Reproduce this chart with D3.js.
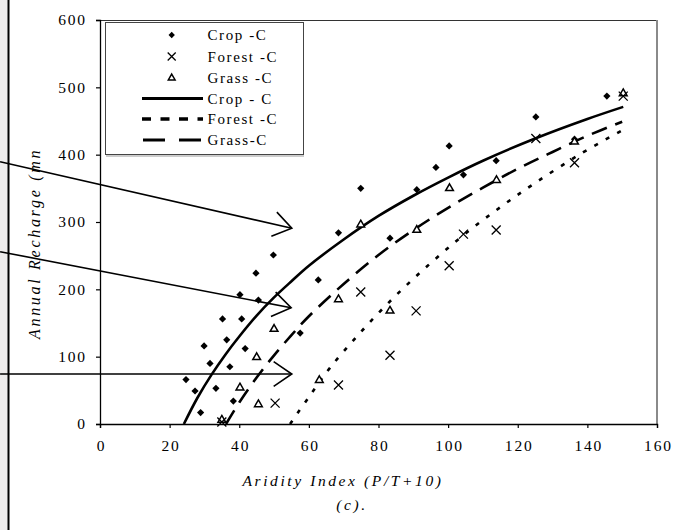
<!DOCTYPE html>
<html><head><meta charset="utf-8">
<script src="https://cdn.jsdelivr.net/npm/d3@7"></script>
<style>
html,body{margin:0;padding:0;background:#fff;}
svg{display:block;}
text{font-family:"Liberation Serif","Times New Roman",serif;fill:#000;}
</style></head>
<body><svg id="c" width="675" height="530"></svg>
<script>
// ---- data ----
const cropX = [24.7,27.3,28.9,29.9,31.6,33.3,35.2,36.4,37.3,38.3,40.2,40.7,41.7,44.8,45.5,49.8,57.5,62.7,68.5,74.9,83.3,91,96.5,100.3,104.4,113.8,125.2,136.3,145.6];
const cropY = [66,49,17,116,90,53,156,125,85,34,192,156,112,224,184,251,135,214,284,350,276,348,381,413,370,391,456,423,487];
const forestX = [35,50.3,68.5,74.9,83.3,90.8,100.3,104.4,113.8,125.2,136.3,150.3];
const forestY = [3,31,58,196,102,168,235,282,288,424,388,487];
const grassX = [35,40.2,45.5,45,50,63,68.5,74.9,83.3,91,100.4,113.9,136.3,150.3];
const grassY = [6,54,29,99,141,65,185,296,168,288,350,362,419,491];
// fitted curves as drawn
const cropFitX = [24.1,28,32,36,40,45,50,55,60,70,80,90,100,110,125,140,150.3];
const cropFitY = [0,39,73,103,130,161,188,212,235,274,309,339,366,391,424,453,471];
const forestFitX = [54.6,60,66,75,85,95,105,115,125,138,150.3];
const forestFitY = [0,40,83,137,191,239,283,322,358,401,437];
const grassFitX = [36.2,40,45,50,55,60,70,80,90,100,110,120,130,140,150];
const grassFitY = [0,32,69,102,132,160,208,251,288,321,351,379,404,428,449];
const xTicks = [0,20,40,60,80,100,120,140,160];
const yTicks = [0,100,200,300,400,500,600];
const legendLabels = ["Crop -C","Forest -C","Grass -C","Crop - C","Forest -C","Grass-C"];
// annotation arrows (data units: start -> tip)
const arrowFrom = [[-28.7,389.6],[-28.7,255.9],[-28.7,74.3]];
const arrowTo = [[55.1,290.7],[54.9,172.7],[55.1,74.3]];

// ---- drawing ----
const svg = d3.select("#c");
const x = d3.scaleLinear().domain([0,160]).range([100,657]);
const y = d3.scaleLinear().domain([0,600]).range([424,20]);

// left strip (edge of neighbouring figure)
svg.append("rect").attr("x",0).attr("y",0).attr("width",8).attr("height",530).attr("fill","#eeecec");
svg.append("line").attr("x1",8.5).attr("x2",8.5).attr("y1",0).attr("y2",530).attr("stroke","#000").attr("stroke-width",2);

// plot frame
svg.append("line").attr("x1",x(0)).attr("x2",x(160)).attr("y1",y(600)+0.5).attr("y2",y(600)+0.5).attr("stroke","#333").attr("stroke-width",1);
svg.append("line").attr("x1",x(160)).attr("x2",x(160)).attr("y1",y(600)).attr("y2",y(0)).attr("stroke","#8a8a8a").attr("stroke-width",2);

// axes
const fmt = d3.format("d");
const gx = svg.append("g").attr("transform",`translate(0,${y(0)})`)
  .call(d3.axisBottom(x).tickValues(xTicks).tickFormat(fmt).tickSizeOuter(0).tickSize(4).tickPadding(12));
const gy = svg.append("g").attr("transform",`translate(${x(0)},0)`)
  .call(d3.axisLeft(y).tickValues(yTicks).tickFormat(fmt).tickSizeOuter(0).tickSize(4).tickPadding(11));
[gx,gy].forEach(g=>{
  g.select(".domain").attr("stroke","#000").attr("stroke-width",1.3);
  g.selectAll(".tick line").attr("stroke","#000").attr("stroke-width",1.2);
  g.selectAll("text").attr("font-family","Liberation Serif, serif").attr("font-size",15.5).style("letter-spacing","1.8px").attr("fill","#111");
});
gy.selectAll("text").attr("dx","1.8px");
gx.selectAll("text").attr("dx","0.9px");

// axis titles
svg.append("text").attr("x",343).attr("y",486).attr("text-anchor","middle")
  .attr("font-size",15.5).attr("font-style","italic").style("letter-spacing","2.6px").text("Aridity Index (P/T+10)");
svg.append("text").attr("x",352).attr("y",510).attr("text-anchor","middle")
  .attr("font-size",15.5).attr("font-style","italic").style("letter-spacing","2.6px").text("(c).");
svg.append("text").attr("transform","translate(40,339) rotate(-90)").attr("text-anchor","start")
  .attr("font-size",16).attr("font-style","italic").style("letter-spacing","2.7px").text("Annual Recharge (mn");

// fitted lines
const line = d3.line().x(d=>x(d[0])).y(d=>y(d[1])).curve(d3.curveCatmullRom);
const zip = (a,b)=>a.map((v,i)=>[v,b[i]]);
svg.append("path").attr("d",line(zip(cropFitX,cropFitY))).attr("fill","none").attr("stroke","#000").attr("stroke-width",2.6);
svg.append("path").attr("d",line(zip(forestFitX,forestFitY))).attr("fill","none").attr("stroke","#000").attr("stroke-width",2.6).attr("stroke-dasharray","4,9");
svg.append("path").attr("d",line(zip(grassFitX,grassFitY))).attr("fill","none").attr("stroke","#000").attr("stroke-width",2.6).attr("stroke-dasharray","16,9");

// markers
const tri = d3.symbol().type(d3.symbolTriangle).size(26);
function drawX(g,cx,cy,r){
  g.append("path").attr("d",`M${cx-r},${cy-r}L${cx+r},${cy+r}M${cx-r},${cy+r}L${cx+r},${cy-r}`)
   .attr("stroke","#000").attr("stroke-width",1.3).attr("fill","none");
}
svg.append("g").selectAll("path").data(zip(cropX,cropY)).join("path")
  .attr("d",d3.symbol().type(d3.symbolSquare).size(26)())
  .attr("transform",d=>`translate(${x(d[0])},${y(d[1])}) rotate(45)`).attr("fill","#000");
svg.append("g").selectAll("path").data(zip(grassX,grassY)).join("path")
  .attr("d",tri()).attr("transform",d=>`translate(${x(d[0])},${y(d[1])})`)
  .attr("fill","#fff").attr("stroke","#000").attr("stroke-width",1.5);
const gf = svg.append("g");
zip(forestX,forestY).forEach(d=>drawX(gf,x(d[0]),y(d[1]),4.5));

// arrows
const ga = svg.append("g");
arrowFrom.forEach((f,i)=>{
  const t = arrowTo[i];
  const x1=x(f[0]),y1=y(f[1]),x2=x(t[0]),y2=y(t[1]);
  ga.append("line").attr("x1",x1).attr("y1",y1).attr("x2",x2).attr("y2",y2).attr("stroke","#000").attr("stroke-width",1.6);
  const ang=Math.atan2(y2-y1,x2-x1), L=22, A=0.6;
  const p1=[x2-L*Math.cos(ang-A),y2-L*Math.sin(ang-A)], p2=[x2-L*Math.cos(ang+A),y2-L*Math.sin(ang+A)];
  ga.append("path").attr("d",`M${p1}L${x2},${y2}L${p2}`).attr("fill","none").attr("stroke","#000").attr("stroke-width",1.6);
});

// legend
const lg = svg.append("g");
lg.append("rect").attr("x",105.5).attr("y",22.5).attr("width",198).attr("height",132).attr("fill","#fff").attr("stroke","#444").attr("stroke-width",1);
lg.append("line").attr("x1",106).attr("x2",304).attr("y1",156).attr("y2",156).attr("stroke","#999").attr("stroke-width",1);
const rowY = [35,56.5,78,98.5,119,140];
lg.append("path").attr("d",d3.symbol().type(d3.symbolSquare).size(20)()).attr("transform",`translate(171.7,${rowY[0]}) rotate(45)`).attr("fill","#000");
drawX(lg,171.7,rowY[1],4);
lg.append("path").attr("d",d3.symbol().type(d3.symbolTriangle).size(20)()).attr("transform",`translate(171.7,${rowY[2]})`).attr("fill","#fff").attr("stroke","#000").attr("stroke-width",1.5);
lg.append("line").attr("x1",142).attr("x2",203).attr("y1",rowY[3]).attr("y2",rowY[3]).attr("stroke","#000").attr("stroke-width",3);
lg.append("line").attr("x1",142).attr("x2",203).attr("y1",rowY[4]).attr("y2",rowY[4]).attr("stroke","#000").attr("stroke-width",3.5).attr("stroke-dasharray","9,9.5");
lg.append("line").attr("x1",143).attr("x2",203).attr("y1",rowY[5]).attr("y2",rowY[5]).attr("stroke","#000").attr("stroke-width",3).attr("stroke-dasharray","22,14");
legendLabels.forEach((t,i)=>{
  lg.append("text").attr("x",207.5).attr("y",rowY[i]+5).attr("font-size",15).style("letter-spacing","1.6px").text(t);
});
</script></body></html>
